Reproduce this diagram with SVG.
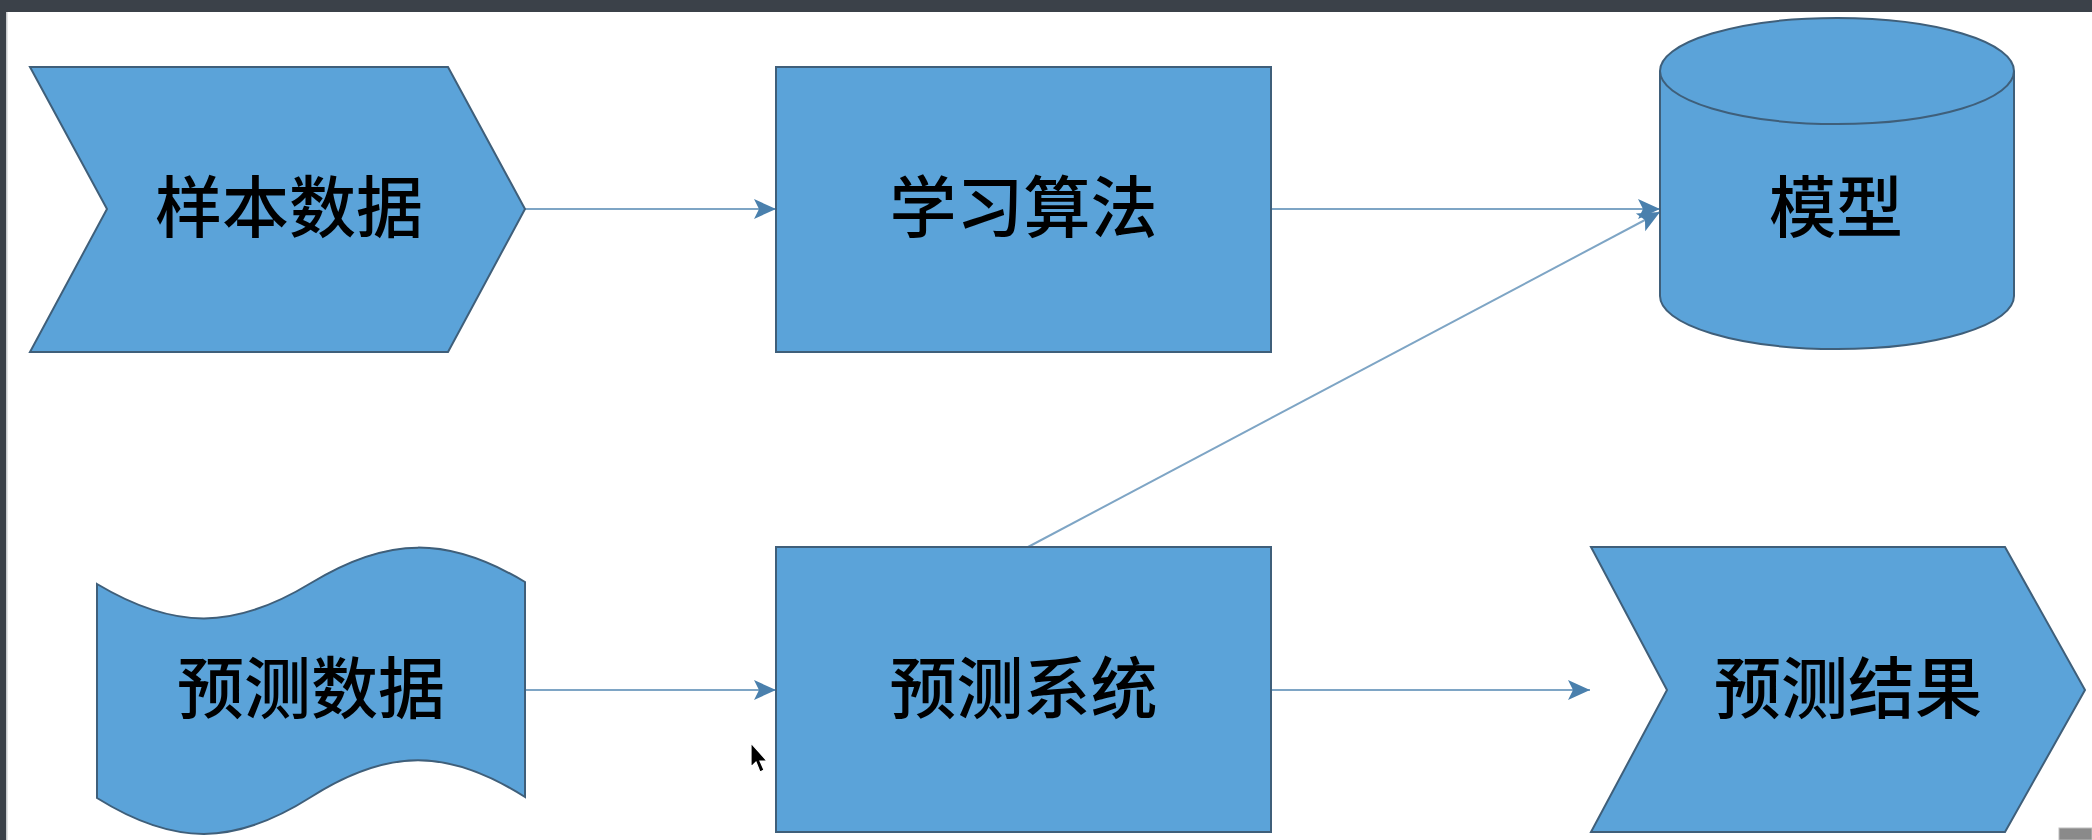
<svg xmlns="http://www.w3.org/2000/svg" width="2092" height="840" viewBox="0 0 2092 840">
  <defs>
    <style>
      .node { fill: #5ba3d9; stroke: #3f5f7a; stroke-width: 2; stroke-linejoin: miter; }
      .label { font-family: "Noto Sans CJK SC", "Noto Sans", sans-serif; font-size: 67px; font-weight: 500; fill: #000; text-anchor: middle; }
      .edge { stroke: #7ea5c5; stroke-width: 2; fill: none; }
    </style>
    <marker id="arrow" markerUnits="userSpaceOnUse" markerWidth="24" markerHeight="22" viewBox="0 0 24 22" refX="23" refY="11" orient="auto">
      <path d="M1,1 L23,11 L1,21 L6,11 Z" fill="#4a80ad"/>
    </marker>
  </defs>

  <!-- window frame -->
  <rect x="0" y="0" width="2092" height="840" fill="#ffffff"/>
  <rect x="0" y="0" width="2092" height="12" fill="#3b4149"/>
  <rect x="0" y="0" width="6" height="840" fill="#3b4149"/>
  <rect x="6" y="12" width="1.5" height="828" fill="#c9cbce"/>

  <!-- connectors -->
  <g id="connectors">
    <line class="edge" x1="525" y1="209" x2="776" y2="209" marker-end="url(#arrow)"/>
    <line class="edge" x1="1271" y1="209" x2="1660" y2="209" marker-end="url(#arrow)"/>
    <line class="edge" x1="1028" y1="547" x2="1660" y2="212" marker-end="url(#arrow)"/>
    <line class="edge" x1="525" y1="690" x2="776" y2="690" marker-end="url(#arrow)"/>
    <line class="edge" x1="1271" y1="690" x2="1590" y2="690" marker-end="url(#arrow)"/>
  </g>

  <!-- 样本数据 -->
  <g id="node-sample-data">
    <polygon class="node" points="30,67 448,67 525,209 448,352 30,352 107,209"/>
    <text class="label" x="289" y="232">样本数据</text>
  </g>

  <!-- 学习算法 -->
  <g id="node-learning-algorithm">
    <rect class="node" x="776" y="67" width="495" height="285"/>
    <text class="label" x="1023.5" y="232">学习算法</text>
  </g>

  <!-- 模型 -->
  <g id="node-model">
    <path class="node" d="M1660,71 L1660,296 A177,53 0 0 0 2014,296 L2014,71 A177,53 0 0 0 1660,71 Z"/>
    <path class="node" d="M1660,71 A177,53 0 0 0 2014,71" fill="none"/>
    <text class="label" x="1836" y="232">模型</text>
  </g>

  <!-- 预测数据 -->
  <g id="node-predict-data">
    <path class="node" d="M97,584 C174,630 234,630 311,583 C388,536 448,536 525,582 L525,797 C448,748 388,748 311,797 C234,846 174,846 97,798 Z"/>
    <text class="label" x="311" y="713">预测数据</text>
  </g>

  <!-- 预测系统 -->
  <g id="node-predict-system">
    <rect class="node" x="776" y="547" width="495" height="285"/>
    <text class="label" x="1023.5" y="713">预测系统</text>
  </g>

  <!-- 预测结果 -->
  <g id="node-predict-result">
    <polygon class="node" points="1591,547 2005,547 2085,690 2005,832 1591,832 1667,690"/>
    <text class="label" x="1848" y="713">预测结果</text>
  </g>

  <!-- screen artifacts -->
  <path d="M751,743 L751,767 L756,762 L760,772 L764,770 L760,761 L767,761 Z" fill="#000" stroke="#fff" stroke-width="1.2"/>
  <rect x="2059" y="828" width="33" height="12" fill="#8a8a8a" stroke="#bdbdbd" stroke-width="1"/>
</svg>
